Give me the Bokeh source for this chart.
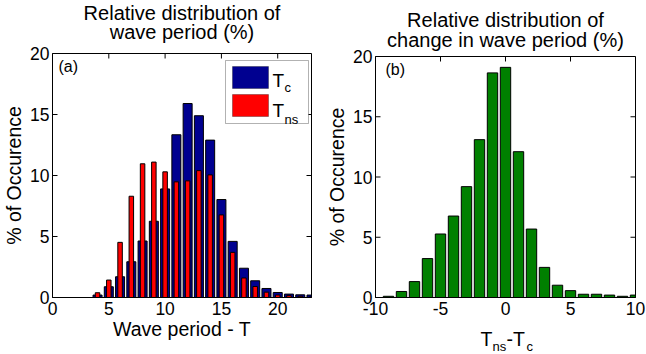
import math
from bokeh.plotting import figure
from bokeh.layouts import row, column
from bokeh.models import FixedTicker, Label, BoxAnnotation, Range1d, Title
from bokeh.embed import file_html
from bokeh.resources import INLINE

# ---- data ----
period = list(range(4, 24))
tc_pct = [0.2, 0.88, 1.7, 2.93, 4.63, 6.25, 8.9, 13.34, 15.9, 14.9,
          12.9, 8.03, 4.6, 2.4, 1.37, 0.74, 0.41, 0.28, 0.22, 0.2]
tns_pct = [0.39, 1.43, 4.52, 8.3, 10.96, 11.1, 10.3, 9.48, 9.56, 10.4,
           10.05, 6.77, 3.7, 1.6, 0.9, 0.44, 0.2, 0.15, 0.1, 0.05]

delta = list(range(-9, 11))
delta_pct = [0.1, 0.5, 1.32, 3.23, 5.27, 6.76, 9.2, 13.1, 18.64, 19.1,
             12.1, 5.68, 2.5, 1.02, 0.57, 0.27, 0.27, 0.2, 0.1, 0.2]

xticks_a = [0, 5, 10, 15, 20]
xticks_b = [-10, -5, 0, 5, 10]
xlabels_b = {-10: "-10", -5: "-5", 0: "0", 5: "5", 10: "10"}
yticks = [0, 5, 10, 15, 20]
xlim_a = (0, 23)
xlim_b = (-10, 10)
ylim = (0, 20)

title_a = ["Relative distribution of", "wave period (%)"]
title_b = ["Relative distribution of", "change in wave period (%)"]

FONT = "Liberation Sans"
BLUE = "#000090"
RED = "#FF0000"
GREEN = "#008000"


def lab(p, text, x, y, size, align="left", baseline="alphabetic"):
    p.add_layout(Label(x=x, y=y, x_units="screen", y_units="screen", text=text,
                       text_font=FONT, text_font_size=size, text_color="black",
                       text_align=align, text_baseline=baseline))


def make_fig(xr, xticks, title_lines, fw, fh, top, left, right, bottom, t_valign, s2, s1):
    p = figure(width=left + fw + right, height=top + fh + bottom,
               frame_width=fw, frame_height=fh,
               min_border_left=left, min_border_right=right,
               min_border_top=top, min_border_bottom=bottom,
               x_range=Range1d(*xr), y_range=Range1d(*ylim),
               output_backend="svg", toolbar_location=None, tools="")
    p.xgrid.visible = False
    p.ygrid.visible = False
    p.outline_line_color = "black"
    p.background_fill_color = "white"
    p.border_fill_color = "white"
    xax = p.xaxis[0]
    yax = p.yaxis[0]
    xax.ticker = FixedTicker(ticks=xticks)
    yax.ticker = FixedTicker(ticks=yticks)
    for ax in (xax, yax):
        ax.major_tick_in = 0
        ax.major_tick_out = 0
        ax.minor_tick_line_color = None
        ax.axis_line_color = "black"
        ax.major_label_text_font = FONT
        ax.major_label_text_font_size = "17.5px"
        ax.major_label_text_color = "black"
        ax.axis_label_text_font = FONT
        ax.axis_label_text_font_size = "19.5px"
        ax.axis_label_text_font_style = "normal"
        ax.axis_label_text_color = "black"
        ax.axis_label_standoff = 0
    xax.axis_label = None
    xax.major_label_standoff = 4
    yax.major_label_standoff = 3
    yax.axis_label = "% of Occurence"
    yax.axis_label_standoff = 2
    # inward ticks on all four sides of the box
    n_x, n_y = len(xticks), len(yticks)
    tick = dict(length=5, length_units="screen", line_color="black", line_width=1)
    p.ray(x=xticks, y=[ylim[0]] * n_x, angle=math.pi / 2, **tick)
    p.ray(x=xticks, y=[ylim[1]] * n_x, angle=-math.pi / 2, **tick)
    p.ray(x=[xr[0]] * n_y, y=yticks, angle=0, **tick)
    p.ray(x=[xr[1]] * n_y, y=yticks, angle=math.pi, **tick)
    # two-line centred title
    t2 = Title(text=title_lines[1], align="center", text_font=FONT, text_font_size="20px",
               text_font_style="normal", text_color="black", standoff=s2,
               vertical_align=t_valign)
    p.add_layout(t2, "above")
    p.title.text = title_lines[0]
    p.title.align = "center"
    p.title.text_font = FONT
    p.title.text_font_size = "20px"
    p.title.text_font_style = "normal"
    p.title.text_color = "black"
    p.title.standoff = s1
    return p, xax, yax


def box(p, l, r, b, t, color):
    p.add_layout(BoxAnnotation(left=l, right=r, bottom=b, top=t,
                               left_units="screen", right_units="screen",
                               bottom_units="screen", top_units="screen",
                               fill_color=color, fill_alpha=1, line_color="black", line_width=1))


# ---- panel (a) ----
pa, xa, ya = make_fig(xlim_a, xticks_a, title_a, 259, 244, 53, 52, 12, 57, "top", 15.6, -20.2)
xa.axis_label = "Wave period - T"
xa.axis_label_standoff = 0
pa.vbar(x=period, top=tc_pct, width=0.8, fill_color=BLUE, line_color="black", line_width=1)
pa.vbar(x=period, top=tns_pct, width=0.4, fill_color=RED, line_color="black", line_width=1)
lab(pa, "(a)", 6, 240, "16px", baseline="top")
# legend
box(pa, 173, 256, 174, 237, "white")
box(pa, 180, 216, 209, 231, BLUE)
box(pa, 180, 216, 181, 203, RED)
lab(pa, "T", 220, 217, "19px")
lab(pa, "c", 232, 210, "13px")
lab(pa, "T", 220, 187, "19px")
lab(pa, "ns", 232, 178, "13px")

# ---- panel (b) ----
pb, xb, yb = make_fig(xlim_b, xticks_b, title_b, 260, 241, 56, 52, 11, 26, "bottom", 10.6, -19)
xb.major_label_overrides = xlabels_b
# keep the bottom axis panel compact so the strip below starts right under the tick labels
xb.minor_tick_out = 0
xb.minor_tick_in = 0
xb.major_label_text_line_height = 1.0
pb.vbar(x=delta, top=delta_pct, width=0.8, fill_color=GREEN, line_color="black", line_width=1)
lab(pb, "(b)", 10, 237, "16px", baseline="top")

# x-axis label of (b) with subscripts, drawn in a strip under the plot
strip = figure(width=323, height=31, min_border=0, x_axis_location=None, y_axis_location=None,
               title_location=None, output_backend="svg", toolbar_location=None, tools="",
               outline_line_color=None, x_range=Range1d(0, 1), y_range=Range1d(0, 1))
strip.xgrid.visible = False
strip.ygrid.visible = False
lab(strip, "T", 105, 16, "19.5px")
lab(strip, "ns", 117, 8, "13px")
lab(strip, "-T", 131, 16, "19.5px")
lab(strip, "c", 151, 8, "13px")

layout = row(pa, column(pb, strip, spacing=0), spacing=0)
open("out.html", "w").write(file_html(layout, INLINE))
